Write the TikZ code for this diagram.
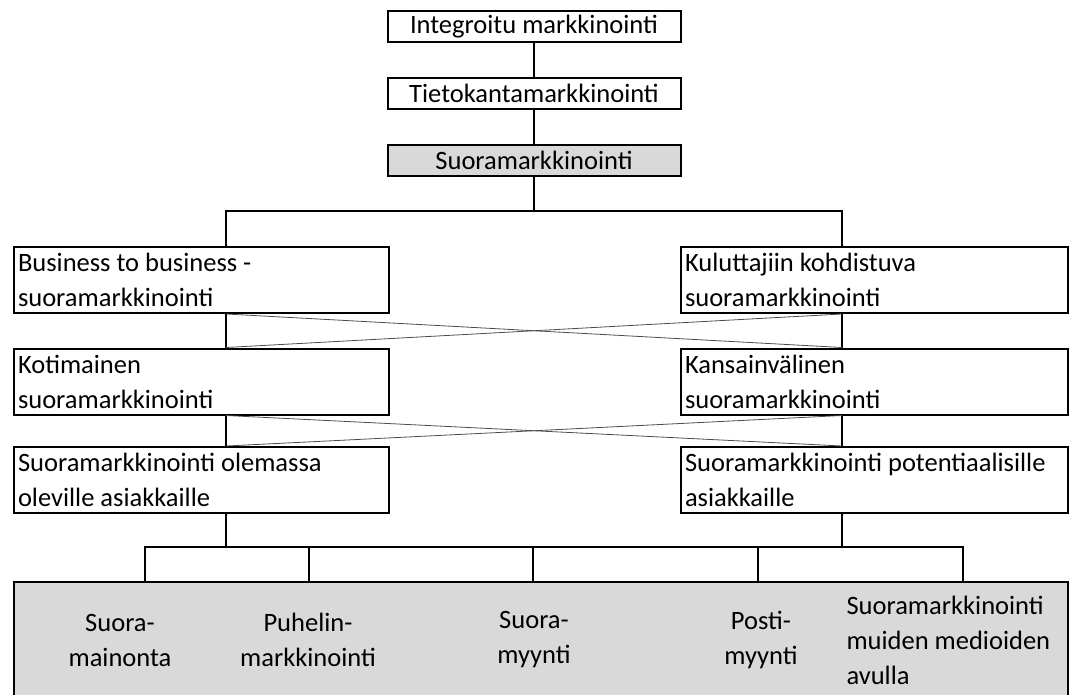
\documentclass[tikz,border=0pt]{standalone}
\usepackage{fontspec}
\setmainfont{Carlito}
\usetikzlibrary{positioning}

\begin{document}
\begin{tikzpicture}[
    x=1pt, y=-1pt,
    font=\fontsize{26.5}{35}\selectfont,
    node distance=34pt,
    block/.style={
      rectangle,
      draw,
      line width=2pt,
      fill=white,
      inner sep=0pt,
      minimum width=293pt,
      minimum height=31pt
    },
    wide/.style={
      rectangle,
      draw,
      line width=2pt,
      fill=white,
      anchor=north west,
      align=flush left,
      inner xsep=4pt,
      inner ysep=0pt,
      minimum height=66pt
    },
    shaded/.style={fill=black!15},
    line/.style={draw, line width=2pt},
    cross/.style={draw, line width=0.8pt, black!70},
]
    \useasboundingbox (0,0) rectangle (1069,695);

    \coordinate (colL) at (226,0);
    \coordinate (colR) at (842,0);
    \coordinate (split) at (534,211);
    \foreach \x [count=\i] in {145,309,533,758,963}
      \coordinate (drop\i) at (\x,547);

    \node [block] (integ) at (534,26.5) {Integroitu markkinointi};
    \node [block, below=of integ] (tieto) {Tietokantamarkkinointi};
    \node [block, shaded, below=of tieto] (suora) {Suoramarkkinointi};

    \node [wide, text width=367pt] (b2b) at (13,246) {Business to business -\\suoramarkkinointi};
    \node [wide, text width=379pt] (kulutt) at (680,246) {Kuluttajiin kohdistuva\\suoramarkkinointi};
    \node [wide, text width=367pt] (koti) at (13,347.5) {Kotimainen\\suoramarkkinointi};
    \node [wide, text width=379pt] (kansain) at (680,347.5) {Kansainvälinen\\suoramarkkinointi};
    \node [wide, text width=367pt] (olemassa) at (13,446) {Suoramarkkinointi olemassa\\oleville asiakkaille};
    \node [wide, text width=379pt] (potent) at (680,446) {Suoramarkkinointi potentiaalisille\\asiakkaille};

    \node [rectangle, draw, line width=2pt, shaded, anchor=north west, inner sep=0pt,
      minimum width=1054pt, minimum height=120pt] (kanavat) at (13,581) {};
    \node [align=center] (suoramain) at (120,640) {Suora-\\mainonta};
    \node [align=center] (puhelin) at (308,640) {Puhelin-\\markkinointi};
    \node [align=center] (suoramyy) at (534,640) {Suora-\\myynti};
    \node [align=center] (posti) at (761,640) {Posti-\\myynti};
    \node [align=left, anchor=west] (muut) at (843,640) {Suoramarkkinointi\\muiden medioiden\\avulla};

    \path [line] (integ) -- (tieto);
    \path [line] (tieto) -- (suora);
    \path [line] (suora) -- (split);
    \path [line] (b2b.north -| colL) |- (split) -| (kulutt.north -| colR);

    \path [line] (b2b.south -| colL) -- (koti.north -| colL);
    \path [line] (koti.south -| colL) -- (olemassa.north -| colL);
    \path [line] (kulutt.south -| colR) -- (kansain.north -| colR);
    \path [line] (kansain.south -| colR) -- (potent.north -| colR);

    \path [cross] (b2b.south -| colL) -- (kansain.north -| colR);
    \path [cross] (kulutt.south -| colR) -- (koti.north -| colL);
    \path [cross] (koti.south -| colL) -- (potent.north -| colR);
    \path [cross] (kansain.south -| colR) -- (olemassa.north -| colL);

    \path [line] (olemassa.south -| colL) -- (colL |- drop1);
    \path [line] (potent.south -| colR) -- (colR |- drop1);
    \path [line] (kanavat.north -| drop1) -- (drop1) -- (drop5) -- (kanavat.north -| drop5);
    \foreach \i in {2,3,4}
      \path [line] (drop\i) -- (kanavat.north -| drop\i);

\end{tikzpicture}
\end{document}
